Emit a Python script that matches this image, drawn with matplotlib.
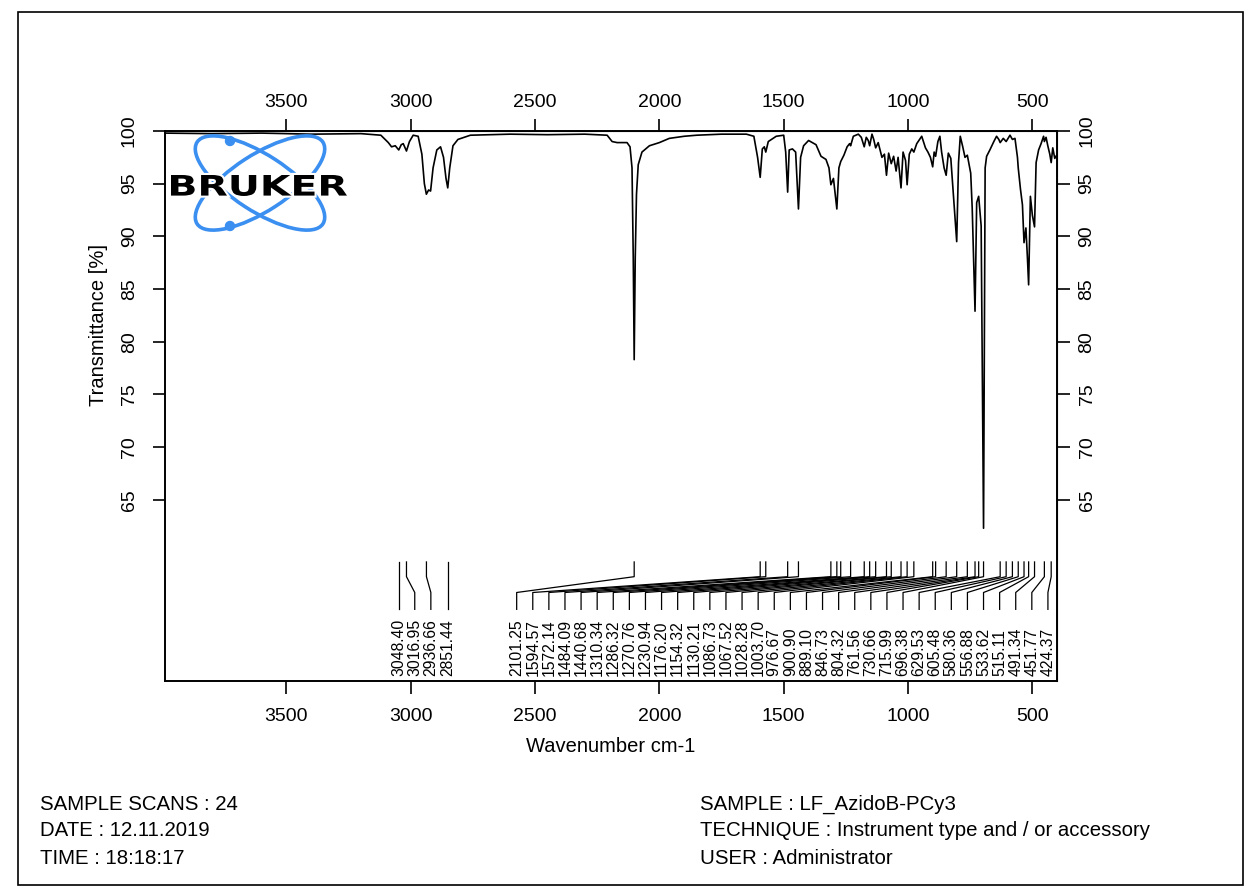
import matplotlib.pyplot as plt
from matplotlib.patches import Ellipse, Circle, PathPatch, Rectangle
from matplotlib.textpath import TextPath
from matplotlib.font_manager import FontProperties
from matplotlib.transforms import Affine2D

plt.rcParams['font.family'] = ['Liberation Sans', 'DejaVu Sans']

# spectre (nombre d'onde cm-1, transmittance %)
wavenumber = [3990, 3800, 3600, 3400, 3200, 3120, 3090, 3077, 3062, 3048, 3038, 3030, 3017, 3005,
              2990, 2970, 2955, 2945, 2937, 2928, 2920, 2910, 2895, 2880, 2868, 2858, 2851, 2843,
              2830, 2810, 2760, 2600, 2450, 2300, 2210, 2190, 2170, 2130, 2118, 2110, 2105, 2101.25,
              2097, 2092, 2085, 2070, 2040, 2000, 1960, 1900, 1850, 1750, 1650, 1620, 1605, 1594.57,
              1586, 1578, 1572.14, 1562, 1530, 1500, 1492, 1484.09, 1478, 1465, 1452, 1440.68, 1432,
              1420, 1400, 1370, 1350, 1330, 1318, 1310.34, 1300, 1286.32, 1278, 1270.76, 1258, 1245,
              1235, 1230.94, 1220, 1200, 1188, 1176.2, 1168, 1160, 1154.32, 1145, 1138, 1130.21, 1120,
              1105, 1095, 1086.73, 1078, 1067.52, 1058, 1048, 1040, 1028.28, 1020, 1010, 1003.7, 995,
              985, 976.67, 965, 945, 930, 920, 910, 900.9, 895, 889.1, 880, 872, 865, 855, 846.73,
              838, 828, 818, 804.32, 797, 790, 780, 771, 761.56, 748, 742, 730.66, 724, 715.99, 706,
              696.38, 690, 684, 671, 655, 644, 635, 629.53, 617, 605.48, 590, 580.36, 570, 560, 556.88,
              548, 540, 533.62, 526, 520, 515.11, 508, 500, 491.34, 485, 475, 465, 455, 451.77, 445,
              438, 430, 424.37, 418, 410, 400]
transmittance = [99.8, 99.75, 99.8, 99.7, 99.75, 99.6, 98.9, 98.5, 98.6, 98.2, 98.7, 98.8, 98.1, 99.0,
                 99.6, 99.5, 97.8, 95.0, 94.0, 94.4, 94.3, 96.5, 98.2, 98.5, 97.5, 95.5, 94.6, 96.5,
                 98.6, 99.2, 99.6, 99.7, 99.65, 99.7, 99.6, 99.0, 98.9, 98.9, 98.5, 96.5, 88.0, 78.3,
                 88.0, 94.0, 96.8, 98.0, 98.6, 98.9, 99.3, 99.5, 99.6, 99.7, 99.7, 99.5, 97.5, 95.6,
                 98.3, 98.5, 98.0, 99.0, 99.5, 99.6, 98.0, 94.2, 98.2, 98.3, 98.0, 92.6, 97.5,
                 98.6, 99.1, 98.7, 97.6, 97.3, 96.5, 94.9, 95.5, 92.6, 96.5, 97.1, 97.7, 98.5,
                 98.8, 98.6, 99.5, 99.7, 99.4, 98.5, 99.4, 99.1, 98.6, 99.7, 99.2, 98.4, 98.9,
                 97.5, 97.8, 95.8, 97.9, 96.9, 97.6, 96.2, 97.5, 94.6, 98.0, 97.2, 94.9, 97.8,
                 98.3, 98.0, 98.8, 99.5, 98.4, 98.0, 97.5, 96.6, 98.0, 97.6, 99.0, 99.5, 98.0, 96.5, 95.8,
                 97.9, 97.4, 94.0, 89.5, 97.0, 99.5, 98.5, 97.5, 97.7, 96.0, 92.7, 82.9, 93.2, 93.8, 91.0,
                 62.3, 96.5, 97.6, 98.2, 99.0, 99.5, 99.2, 98.9, 99.3, 99.0, 99.6, 99.2, 99.3, 97.5, 96.5,
                 94.5, 93.0, 89.4, 90.8, 88.0, 85.4, 93.8, 92.0, 90.9, 97.0, 98.2, 98.8, 99.5, 99.0, 99.4,
                 98.6, 97.8, 97.0, 98.4, 97.4, 97.8]

# pics annotés
peaks_group1 = [3048.40, 3016.95, 2936.66, 2851.44]
peaks_group2 = [2101.25, 1594.57, 1572.14, 1484.09, 1440.68, 1310.34, 1286.32, 1270.76, 1230.94,
                1176.20, 1154.32, 1130.21, 1086.73, 1067.52, 1028.28, 1003.70, 976.67, 900.90,
                889.10, 846.73, 804.32, 761.56, 730.66, 715.99, 696.38, 629.53, 605.48, 580.36,
                556.88, 533.62, 515.11, 491.34, 451.77, 424.37]

x_ticks = [3500, 3000, 2500, 2000, 1500, 1000, 500]
y_ticks = [65, 70, 75, 80, 85, 90, 95, 100]

info_left = ["SAMPLE SCANS : 24", "DATE : 12.11.2019", "TIME : 18:18:17"]
info_right = ["SAMPLE : LF_AzidoB-PCy3", "TECHNIQUE : Instrument type and / or accessory",
              "USER : Administrator"]

W, H = 1253, 894
fs = 14
fig = plt.figure(figsize=(W / 100, H / 100), dpi=100)

# cadre extérieur
fig.patches.append(Rectangle((18 / W, 1 - 885 / H), (1243 - 18) / W, (885 - 12) / H,
                             transform=fig.transFigure, fill=False, edgecolor='black', lw=1.2))

L, R, T, B = 165, 1057, 131, 681
ax = fig.add_axes([L / W, 1 - B / H, (R - L) / W, (B - T) / H])
ax.plot(wavenumber, transmittance, color='black', lw=1.2)
ax.set_xlim(3988, 401)
ax.set_ylim(47.8, 100)

for sp in ax.spines.values():
    sp.set_linewidth(1.4)

ax.set_xticks(x_ticks)
ax.set_yticks(y_ticks)
ax.tick_params(direction='out', length=9, width=1.2, labelsize=fs)
ax.tick_params(axis='x', pad=10.5)
ax.tick_params(axis='y', labelrotation=90, pad=10.5)
for lab in ax.get_yticklabels():
    lab.set_va('center')

top = ax.secondary_xaxis('top')
top.set_xticks(x_ticks)
top.tick_params(direction='out', length=9, width=1.2, labelsize=fs, pad=5.5)
right = ax.secondary_yaxis('right')
right.set_yticks(y_ticks)
right.tick_params(direction='out', length=9, width=1.2, labelsize=fs, pad=6.5, labelrotation=90)
for lab in right.get_yticklabels():
    lab.set_va('center')

ax.set_xlabel('Wavenumber cm-1', fontsize=fs + 0.5, labelpad=8.5)
ax.set_ylabel('Transmittance [%]', fontsize=fs + 0.5)
ax.yaxis.set_label_coords(-0.064, 0.647)

# étiquettes des pics
px_per_cm = 0.2487
gap = 16.1 / px_per_cm
right_limit = 437.5
y_top, y_knee, y_elbow, y_end, y_text = 59.1, 57.7, 56.2, 54.6, 48.3

peaks = peaks_group1 + peaks_group2
pos = []
for p in peaks:
    pos.append(p if not pos else min(p, pos[-1] - gap))
pos[-1] = max(pos[-1], right_limit)
for i in range(len(pos) - 2, -1, -1):
    pos[i] = max(pos[i], pos[i + 1] + gap)

for p, q in zip(peaks, pos):
    ax.plot([p, p, q, q], [y_top, y_knee, y_elbow, y_end], color='black', lw=0.9)
    ax.text(q, y_text, f'{p:.2f}', rotation=90, ha='center', va='bottom', fontsize=11.3)

# textes du bas
for i, s in enumerate(info_left):
    fig.text(40 / W, 1 - (804 + i * 27) / H, s, fontsize=fs + 0.7, va='center')
for i, s in enumerate(info_right):
    fig.text(700 / W, 1 - (804 + i * 27) / H, s, fontsize=fs + 0.7, va='center')

# logo Bruker
lx0, lx1, ly0, ly1 = 165, 365, 131, 240
lax = fig.add_axes([lx0 / W, 1 - ly1 / H, (lx1 - lx0) / W, (ly1 - ly0) / H])
lax.set_xlim(lx0, lx1)
lax.set_ylim(ly1, ly0)
lax.axis('off')
blue = '#3a8ff0'
for ang in (33, -33):
    lax.add_patch(Ellipse((260, 183), 150, 56, angle=ang, fill=False, edgecolor=blue, lw=2.6))
for cy in (141, 226):
    lax.add_patch(Circle((230, cy), 4.5, color=blue))
tp = TextPath((0, 0), 'BRUKER', size=20, prop=FontProperties(family='DejaVu Sans', weight='bold'))
bb = tp.get_extents()
tr = Affine2D().translate(-bb.x0, -bb.y0).scale(176 / bb.width, -21 / bb.height).translate(171, 196)
lax.add_patch(PathPatch(tp, transform=tr + lax.transData, facecolor='black', edgecolor='white', lw=3))
lax.add_patch(PathPatch(tp, transform=tr + lax.transData, facecolor='black', edgecolor='none'))

fig.savefig('out.png', dpi=100)
